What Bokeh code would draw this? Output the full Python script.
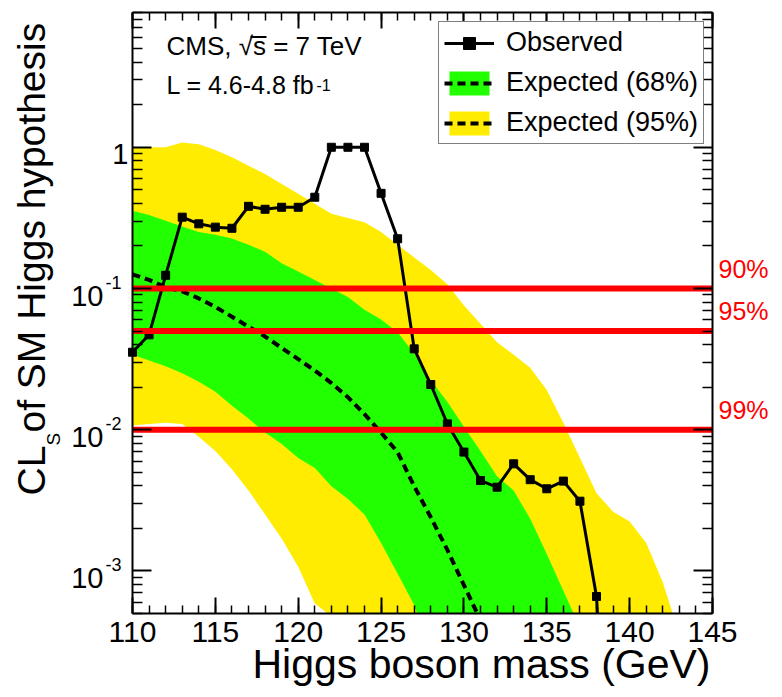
import math
from bokeh.plotting import figure
from bokeh.models import (Range1d, FixedTicker, LinearAxis, LogAxis, Label,
                          Legend, LegendItem, BoxAnnotation, CustomJSTickFormatter)
from bokeh.embed import file_html
from bokeh.resources import INLINE

# ---------------- data ----------------
mass_obs = list(range(110, 140))
observed = [0.0354, 0.047, 0.124, 0.32, 0.287, 0.272, 0.267, 0.382, 0.364, 0.376,
            0.376, 0.443, 1.0, 1.0, 1.0, 0.472, 0.225, 0.0374, 0.0209, 0.0110,
            0.00695, 0.00437, 0.00392, 0.00574, 0.00443, 0.00382, 0.00433, 0.00312,
            0.00066, 0.000006]

mass_band = list(range(110, 146))
expected_median = [0.126, 0.115, 0.102, 0.0955, 0.0851, 0.0741, 0.0631, 0.0537, 0.0457, 0.0380,
                   0.0316, 0.0263, 0.0214, 0.0170, 0.0129, 0.00955, 0.00692, 0.00398, 0.00240, 0.00141,
                   0.000794, 0.000447, 0.000200, 0.00008, 0.00003, 0.00001, 0.000005, 0.000002,
                   0.000001, 0.000001, 0.000001, 0.000001, 0.000001, 0.000001, 0.000001, 0.000001]
band68_hi = [0.355, 0.331, 0.302, 0.275, 0.251, 0.240, 0.226, 0.204, 0.182, 0.151,
             0.132, 0.115, 0.100, 0.0871, 0.0708, 0.0603, 0.0490, 0.0347, 0.0224, 0.0158,
             0.0105, 0.00708, 0.00468, 0.00372, 0.00234, 0.00132, 0.000724, 0.000398,
             0.00015, 0.00005, 0.00002, 0.00001, 0.000005, 0.000002, 0.000001, 0.000001]
band68_lo = [0.0339, 0.0309, 0.0282, 0.0251, 0.0219, 0.0186, 0.0148, 0.0120, 0.00955, 0.00794,
             0.00631, 0.00537, 0.00398, 0.00324, 0.00251, 0.00158, 0.000955, 0.000575, 0.000251, 0.0001,
             0.00004, 0.00002, 0.00001, 0.000005, 0.000002, 0.000001, 0.000001, 0.000001,
             0.000001, 0.000001, 0.000001, 0.000001, 0.000001, 0.000001, 0.000001, 0.000001]
band95_hi = [1.0, 1.0, 1.0, 1.08, 1.05, 0.955, 0.851, 0.741, 0.646, 0.550,
             0.468, 0.398, 0.339, 0.316, 0.295, 0.251, 0.204, 0.166, 0.135, 0.107,
             0.0759, 0.0562, 0.0417, 0.0339, 0.0275, 0.0191, 0.0112, 0.00631, 0.00355, 0.00263,
             0.00224, 0.00158, 0.000832, 0.000355, 0.0001, 0.00003]
band95_lo = [0.0107, 0.0110, 0.0112, 0.0110, 0.00891, 0.00708, 0.00525, 0.00372, 0.00251, 0.00170,
             0.00107, 0.000589, 0.000479, 0.000158, 0.00005, 0.00002, 0.00001, 0.000005, 0.000002, 0.000001,
             0.000001, 0.000001, 0.000001, 0.000001, 0.000001, 0.000001, 0.000001, 0.000001,
             0.000001, 0.000001, 0.000001, 0.000001, 0.000001, 0.000001, 0.000001, 0.000001]

cl_levels = [0.1, 0.05, 0.01]
cl_labels = ["90%", "95%", "99%"]

x_ticks = [110, 115, 120, 125, 130, 135, 140, 145]
y_ticks = [0.001, 0.01, 0.1, 1.0]
y_tick_labels = [("10", "-3"), ("10", "-2"), ("10", "-1"), ("1", "")]

legend_labels = ["Observed", "Expected (68%)", "Expected (95%)"]

XMIN, XMAX = 110, 145
YMIN, YMAX = 5e-4, 9.0

# ---------------- layout (page pixels) ----------------
W, H = 782, 697
FL, FT, FW, FH = 132, 12, 580, 601     # visible plot box
FB = FT + FH
LMIN, LMAX = math.log10(YMIN), math.log10(YMAX)


def dx(px):
    return XMIN + (px - FL) / FW * (XMAX - XMIN)


def dy(py):
    return 10 ** (LMAX - (py - FT) / FH * (LMAX - LMIN))


def ypix(val):
    return FT + (LMAX - math.log10(val)) / (LMAX - LMIN) * FH


FONT = "Liberation Sans"
YELLOW = "#ffec00"
GREEN = "#22ff00"

# the drawing frame covers the whole canvas; the visible box is drawn by pinned axes
p = figure(width=W, height=H, x_range=Range1d(dx(0), dx(W)), y_range=Range1d(dy(H), dy(0)),
           y_axis_type="log", output_backend="svg", toolbar_location=None,
           min_border_left=0, min_border_right=0, min_border_top=0, min_border_bottom=0,
           background_fill_color="white", border_fill_color="white",
           outline_line_color=None)
p.grid.visible = False

empty = CustomJSTickFormatter(code="return ''")
xticker = FixedTicker(ticks=x_ticks, minor_ticks=list(range(XMIN, XMAX + 1)))
yminor = [k * 10.0 ** e for e in range(-4, 1) for k in range(2, 10)]
yminor = [v for v in yminor if YMIN <= v <= YMAX]
yticker = FixedTicker(ticks=y_ticks, minor_ticks=yminor)


def style_axis(ax, major, minor):
    ax.major_tick_in = major
    ax.major_tick_out = 0
    ax.minor_tick_in = minor
    ax.minor_tick_out = 0
    ax.axis_line_width = 2
    ax.major_tick_line_width = 2
    ax.minor_tick_line_width = 1.5
    ax.axis_line_color = "black"
    ax.major_tick_line_color = "black"
    ax.minor_tick_line_color = "black"


# ---------------- glyphs ----------------
r95 = p.varea(x=mass_band, y1=band95_lo, y2=band95_hi, fill_color=YELLOW)
r68 = p.varea(x=mass_band, y1=band68_lo, y2=band68_hi, fill_color=GREEN)
rmed = p.line(mass_band, expected_median, line_color="black", line_width=4, line_dash="8 5")
robs = p.line(mass_obs, observed, line_color="black", line_width=3)
rmk = p.scatter(mass_obs, observed, marker="square", size=8, color="black")

# white mask below the plot box (the curves continue below the axis minimum)
p.add_layout(BoxAnnotation(top=YMIN, fill_color="white", fill_alpha=1, line_alpha=0,
                           level="glyph"))

for lvl in cl_levels:
    p.line([XMIN, XMAX], [lvl, lvl], line_color="#ff0000", line_width=6)

# ---------------- axes pinned to the plot box ----------------
xax = p.xaxis[0]
xax.ticker = xticker
xax.fixed_location = YMIN
xax.bounds = (XMIN, XMAX)
style_axis(xax, 16, 8)
xax.major_label_text_font = FONT
xax.major_label_text_font_size = "30px"
xax.major_label_text_color = "black"
xax.major_label_standoff = 8

yax = p.yaxis[0]
yax.ticker = yticker
yax.fixed_location = XMIN
yax.bounds = (YMIN, YMAX)
style_axis(yax, 19, 10)
yax.formatter = empty
yax.major_label_text_font_size = "0px"
yax.major_label_standoff = 0

top = LinearAxis(ticker=xticker, formatter=empty, major_label_text_font_size="0px",
                 major_label_standoff=0, fixed_location=YMAX, bounds=(XMIN, XMAX))
style_axis(top, 16, 8)
p.add_layout(top, "above")
right = LogAxis(ticker=yticker, formatter=empty, major_label_text_font_size="0px",
                major_label_standoff=0, fixed_location=XMAX, bounds=(YMIN, YMAX))
style_axis(right, 19, 10)
p.add_layout(right, "right")


# ---------------- texts ----------------
def slabel(px, py, text, size, color="black", **kw):
    p.add_layout(Label(x=px, y=H - py, x_units="screen", y_units="screen", text=text,
                       text_font=FONT, text_font_size=size, text_color=color, **kw))


for lvl, lab in zip(cl_levels, cl_labels):
    slabel(718, ypix(lvl) - 6, lab, "25px", color="#ff0000")

for val, (base, sup) in zip(y_ticks, y_tick_labels):
    py_t = ypix(val)
    if sup:
        slabel(103, py_t + 17, base, "29px", text_align="right")
        slabel(105, py_t, sup, "18px", text_align="left")
    else:
        slabel(128, py_t + 17, base, "29px", text_align="right")

slabel(710, 686, "Higgs boson mass (GeV)", "41px", text_align="right")
slabel(52, 495, "CL", "39px", angle=math.pi / 2)
slabel(63, 445, "S", "19px", angle=math.pi / 2)
slabel(52, 432, " of SM Higgs hypothesis", "39px", angle=math.pi / 2)

slabel(166, 60, "CMS, √s = 7 TeV", "26px")
p.add_layout(BoxAnnotation(left=250, right=266, top=H - 35.5, bottom=H - 37.5,
                           left_units="screen", right_units="screen",
                           top_units="screen", bottom_units="screen",
                           fill_color="black", fill_alpha=1, line_alpha=0))
slabel(166, 98, "L = 4.6-4.8 fb", "25px")
slabel(316, 90, "-1", "16px")

legend = Legend(items=[LegendItem(label=legend_labels[0], renderers=[robs, rmk]),
                       LegendItem(label=legend_labels[1], renderers=[r68, rmed]),
                       LegendItem(label=legend_labels[2], renderers=[r95, rmed])],
                location=(438, H - 144), padding=5, spacing=9, glyph_width=50, glyph_height=30,
                label_standoff=12, label_text_font=FONT, label_text_font_size="27px",
                label_text_color="black",
                border_line_color="black", border_line_width=1.5, background_fill_alpha=1,
                margin=0)
p.add_layout(legend)

open("out.html", "w").write(file_html(p, INLINE))
